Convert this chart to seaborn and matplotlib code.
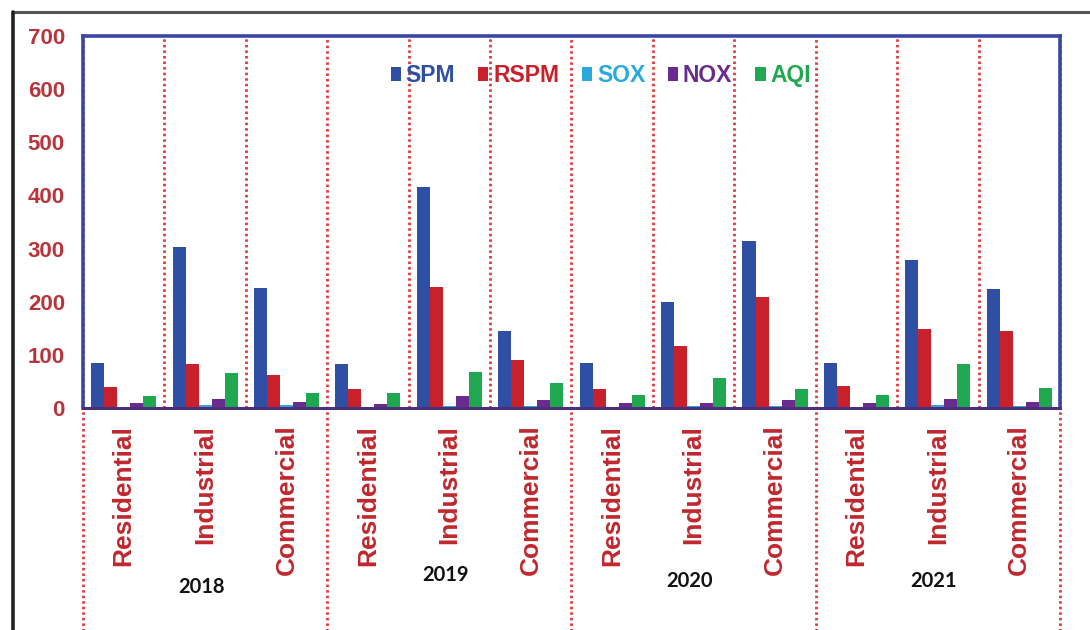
import matplotlib
matplotlib.use("Agg")
import matplotlib.pyplot as plt
from matplotlib.lines import Line2D
import seaborn as sns
import pandas as pd

# Monitoring data: four years, three land-use zones per year
years = ["2018", "2019", "2020", "2021"]
zones = ["Residential", "Industrial", "Commercial"]
pollutants = ["SPM", "RSPM", "SOX", "NOX", "AQI"]

spm  = [85, 303, 226,  83, 416, 145,  85, 200, 315,  85, 279, 224]
rspm = [40,  83,  62,  36, 228,  90,  36, 117, 209,  41, 149, 145]
sox  = [ 2,   6,   5,   2,   4,   3,   2,   3,   4,   2,   5,   4]
nox  = [10,  17,  12,   8,  22,  15,  10,  10,  15,  10,  17,  12]
aqi  = [22,  66,  28,  28,  68,  47,  25,  56,  36,  25,  83,  38]

colors = ["#2f4fa5", "#c9212b", "#2aa9df", "#6a2b8e", "#1fa84f"]
label_red = "#c0272d"
tick_red = "#b8343a"

slots = [f"{y}-{z}" for y in years for z in zones]
series = dict(zip(pollutants, [spm, rspm, sox, nox, aqi]))
df = pd.DataFrame(
    [(slot, p, v) for p in pollutants for slot, v in zip(slots, series[p])],
    columns=["slot", "pollutant", "value"],
)

sns.set_style("white")
plt.rcParams["font.family"] = ["Liberation Sans", "DejaVu Sans"]

fig = plt.figure(figsize=(10.9, 6.3), dpi=100)
ax = fig.add_axes([0.0761, 0.3524, 0.8964, 0.5905])

sns.barplot(data=df, x="slot", y="value", hue="pollutant", order=slots,
            hue_order=pollutants, palette=colors, width=0.8,
            saturation=1, linewidth=0, ax=ax)

ax.set_xlim(-0.5, len(slots) - 0.5)
ax.set_ylim(0, 700)
ax.set_yticks(range(0, 701, 100))
ax.set_xlabel("")
ax.set_ylabel("")

# Zone labels under the axis
ax.set_xticks(range(len(slots)))
ax.set_xticklabels([z for _ in years for z in zones], rotation=90,
                   color=label_red, fontsize=19, fontweight="bold")
for lab in ax.get_xticklabels():
    lab.set_verticalalignment("top")
ax.tick_params(axis="x", length=0, pad=12)
ax.tick_params(axis="y", length=0, pad=13, labelsize=16,
               labelcolor=tick_red)
for lab in ax.get_yticklabels():
    lab.set_fontweight("bold")

# Frame
frame_blue = "#3a46a2"
for side in ["left", "top", "right"]:
    ax.spines[side].set_visible(True)
    ax.spines[side].set_color(frame_blue)
    ax.spines[side].set_linewidth(2.6)
ax.spines["bottom"].set_color("#4a2f7a")
ax.spines["bottom"].set_linewidth(2.2)
ax.grid(False)

# Dotted separators between zones, and longer ones between years
dot_red = "#e0393c"
dots = (0, (0.9, 1.1))
for i in range(len(slots) + 1):
    xpos = i - 0.5
    if i % 3 == 0:
        ax.axvline(xpos, ymin=-0.62, ymax=1.0, color=dot_red, lw=2.0,
                   ls=dots, clip_on=False, zorder=0.5)
    else:
        ax.axvline(xpos, ymin=0.0, ymax=1.0, color=dot_red, lw=2.0,
                   ls=dots, zorder=0.5)

# Year labels
year_y = [-0.48, -0.45, -0.465, -0.465]
for k, (yr, yy) in enumerate(zip(years, year_y)):
    ax.text(3 * k + 1 - 0.05, yy, yr, transform=ax.get_xaxis_transform(),
            ha="center", va="center", fontsize=14.5, fontweight="bold",
            family=["Lato", "DejaVu Sans"], color="#111111")

# Legend with coloured text
leg = ax.legend(loc="upper center", bbox_to_anchor=(0.53, 0.98), ncol=5,
                frameon=False, handlelength=0.45, handleheight=0.6,
                handletextpad=0.2, columnspacing=1.0,
                prop={"weight": "bold", "size": 16.5})
for txt, c in zip(leg.get_texts(), colors):
    txt.set_color(c)

# Outer border of the figure panel
fig.add_artist(Line2D([0.012, 1.0], [0.981, 0.981], transform=fig.transFigure,
                      color="#555555", lw=2.2))
fig.add_artist(Line2D([0.012, 0.012], [0.0, 0.981], transform=fig.transFigure,
                      color="#222222", lw=2.6))

fig.savefig("out.png", dpi=100, facecolor="white")
